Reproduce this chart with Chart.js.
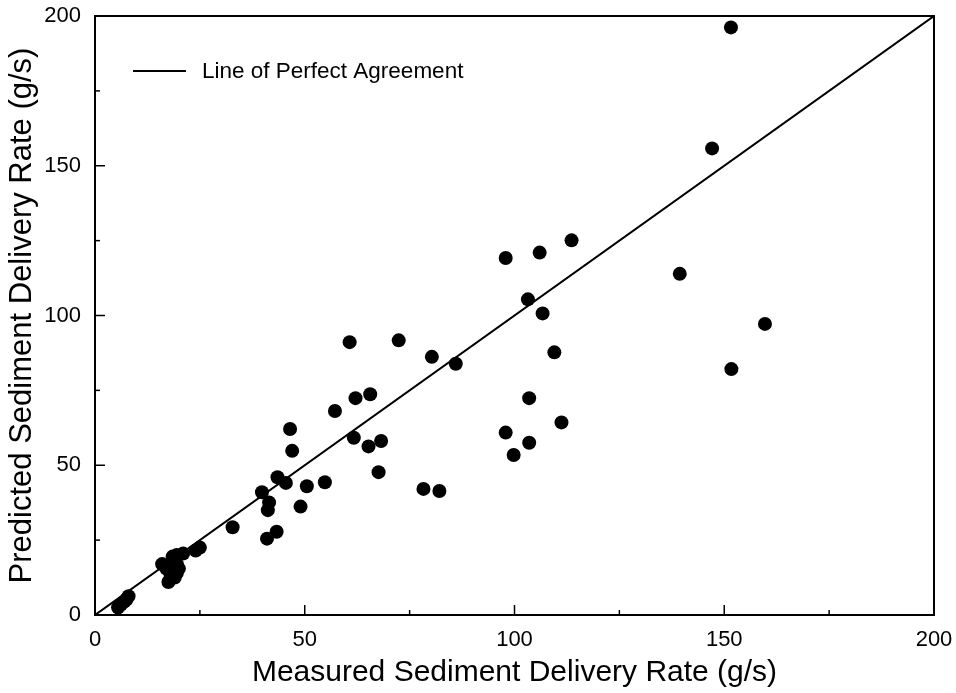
<!DOCTYPE html>
<html>
<head>
<meta charset="utf-8">
<script src="https://cdn.jsdelivr.net/npm/chart.js@4/dist/chart.umd.min.js"></script>
<style>
  html, body { margin: 0; padding: 0; background: #fff; }
  #wrap { width: 956px; height: 693px; position: relative; }
</style>
</head>
<body>
<div id="wrap"><canvas id="c" width="956" height="693"></canvas></div>
<script>
// ---- Data ----
const measured = [
  5.5, 6.2, 7.0, 7.5, 8.0,
  16.0, 17.0, 18.5, 19.5, 21.0, 18.5, 19.5, 18.0, 19.5, 17.5, 19.0, 20.0,
  24.0, 25.0,
  32.8,
  41.0, 43.3, 41.2, 41.5, 39.8, 49.0, 43.5, 45.5, 50.5, 54.8,
  46.5, 47.0, 57.2, 60.7, 62.1, 65.6, 61.7, 65.2, 68.2, 67.6,
  72.4, 78.3, 82.1, 80.3, 86.0,
  97.9, 106.0, 113.6, 103.2, 106.7, 109.5, 103.5, 111.2, 97.9, 103.5, 99.8,
  139.4, 147.1, 151.6, 159.7, 151.7
];
const predicted = [
  2.5, 3.5, 4.5, 5.2, 6.3,
  17.0, 15.5, 19.5, 20.0, 20.5, 16.5, 17.0, 13.5, 14.0, 11.0, 12.5, 15.5,
  21.5, 22.5,
  29.3,
  25.5, 27.8, 35.0, 37.6, 41.0, 36.2, 46.0, 44.1, 43.0, 44.3,
  62.1, 54.8, 68.1, 91.1, 72.4, 73.7, 59.2, 56.3, 58.1, 47.7,
  91.7, 42.1, 41.4, 86.2, 83.9,
  119.2, 121.0, 125.1, 105.4, 100.7, 87.7, 72.4, 64.3, 60.9, 57.5, 53.4,
  113.9, 155.8, 196.2, 97.2, 82.1
];
const agreementX = [0, 200];
const agreementY = [0, 200];
const tickValues = [0, 50, 100, 150, 200];
const minorTickValues = [25, 75, 125, 175];
const xTitle = 'Measured Sediment Delivery Rate (g/s)';
const yTitle = 'Predicted Sediment Delivery Rate (g/s)';
const legendLabel = 'Line of Perfect Agreement';

const FONT = "'Liberation Sans', Arial, Helvetica, sans-serif";

const points = measured.map((m, i) => ({ x: m, y: predicted[i] }));
const linePts = agreementX.map((v, i) => ({ x: v, y: agreementY[i] }));

// frame, inward tick marks, and in-plot legend
const framePlugin = {
  id: 'frame',
  afterDraw(chart) {
    const { ctx, chartArea: a, scales } = chart;
    ctx.save();
    ctx.strokeStyle = '#000';
    ctx.lineWidth = 2;
    ctx.strokeRect(a.left, a.top, a.right - a.left, a.bottom - a.top);
    ctx.lineWidth = 1.5;
    const drawTicks = (vals, len) => {
      vals.forEach(v => {
        const px = scales.x.getPixelForValue(v);
        ctx.beginPath(); ctx.moveTo(px, a.bottom); ctx.lineTo(px, a.bottom - len); ctx.stroke();
        const py = scales.y.getPixelForValue(v);
        ctx.beginPath(); ctx.moveTo(a.left, py); ctx.lineTo(a.left + len, py); ctx.stroke();
      });
    };
    drawTicks(tickValues, 10);
    drawTicks(minorTickValues, 5);
    // legend
    const ly = a.top + 55;
    ctx.lineWidth = 2;
    ctx.beginPath(); ctx.moveTo(a.left + 38, ly); ctx.lineTo(a.left + 91, ly); ctx.stroke();
    ctx.fillStyle = '#000';
    ctx.font = '22.5px ' + FONT;
    ctx.textBaseline = 'middle';
    ctx.textAlign = 'left';
    ctx.fillText(legendLabel, a.left + 107, ly + 1);
    ctx.restore();
  }
};

new Chart(document.getElementById('c'), {
  type: 'scatter',
  data: {
    datasets: [
      {
        label: legendLabel,
        data: linePts,
        showLine: true,
        borderColor: '#000',
        borderWidth: 2,
        pointRadius: 0,
        fill: false,
        order: 2
      },
      {
        label: 'Observations',
        data: points,
        pointRadius: 7,
        pointBackgroundColor: '#000',
        pointBorderWidth: 0,
        showLine: false,
        order: 1
      }
    ]
  },
  options: {
    responsive: false,
    animation: false,
    layout: { padding: { top: 16, right: 22, left: 0, bottom: 0 } },
    plugins: { legend: { display: false }, tooltip: { enabled: false } },
    scales: {
      x: {
        type: 'linear', min: 0, max: 200,
        afterBuildTicks: s => { s.ticks = tickValues.map(v => ({ value: v })); },
        grid: { display: false, drawTicks: false },
        border: { display: false },
        ticks: { color: '#000', padding: 12, font: { family: FONT, size: 22 } },
        title: { display: true, text: xTitle, color: '#000', padding: { top: 0, bottom: 2 }, font: { family: FONT, size: 30 } },
        afterFit: s => { s.height = 78; s.paddingLeft = 0; s.paddingRight = 0; }
      },
      y: {
        type: 'linear', min: 0, max: 200,
        afterBuildTicks: s => { s.ticks = tickValues.map(v => ({ value: v })); },
        grid: { display: false, drawTicks: false },
        border: { display: false },
        ticks: { color: '#000', padding: 14, font: { family: FONT, size: 22 } },
        title: { display: true, text: yTitle, color: '#000', padding: { top: 4, bottom: 0 }, font: { family: FONT, size: 31 } },
        afterFit: s => { s.width = 95; s.paddingTop = 0; s.paddingBottom = 0; }
      }
    }
  },
  plugins: [framePlugin]
});
</script>
</body>
</html>
